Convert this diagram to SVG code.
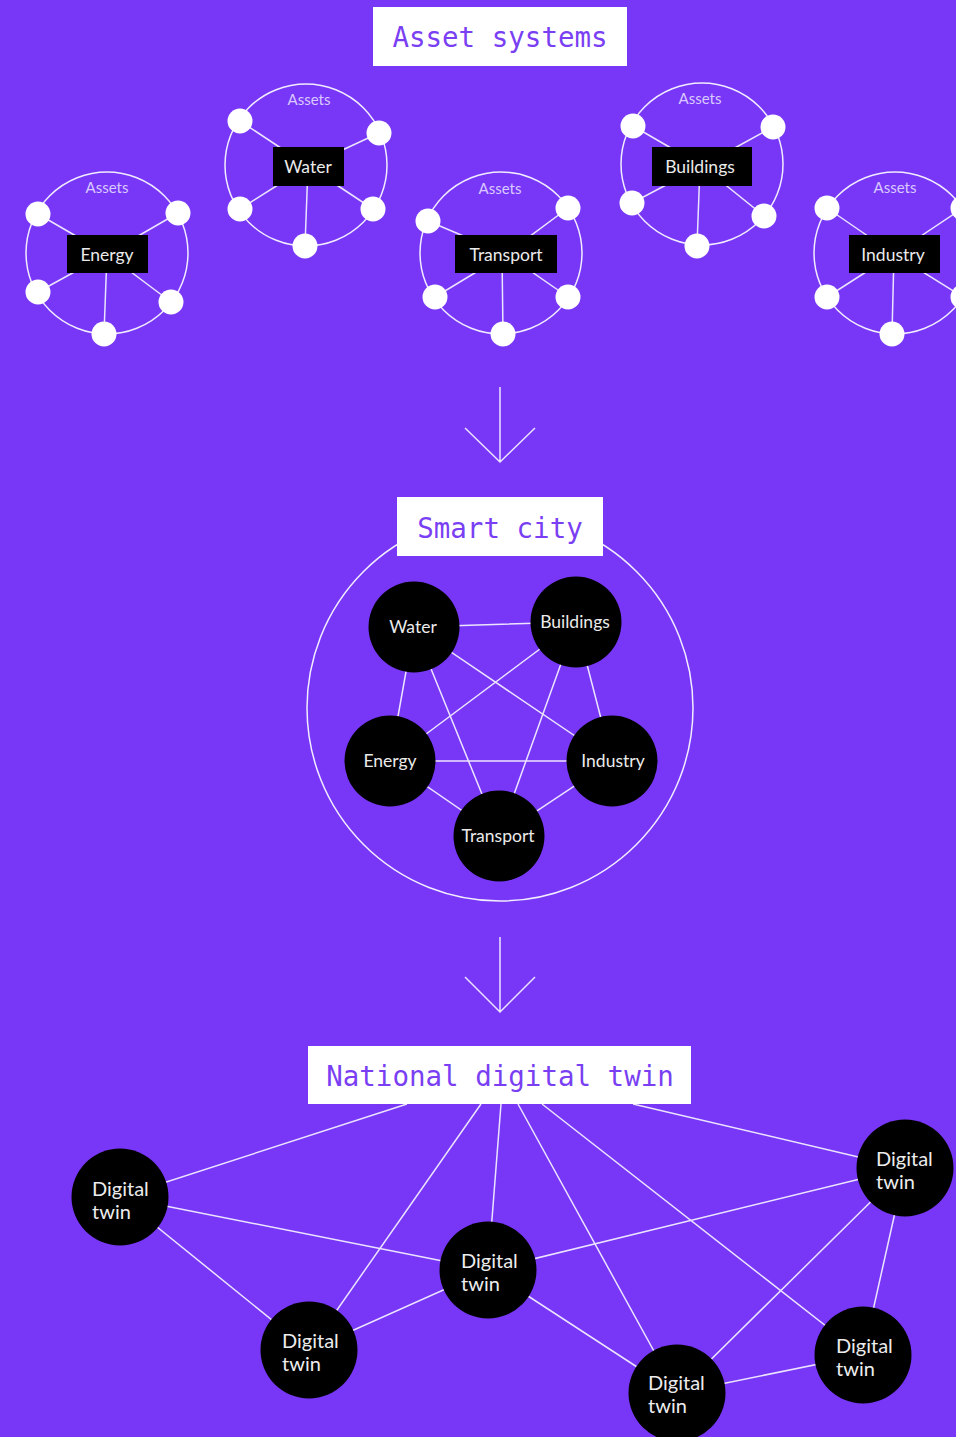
<svg xmlns="http://www.w3.org/2000/svg" width="956" height="1437" viewBox="0 0 956 1437">
<style>
.bg{fill:#7837F7}
.ring{fill:none;stroke:#f2ecff;stroke-width:1.5}
.ln{stroke:#ece4ff;stroke-width:1.5;fill:none}
.dot{fill:#ffffff}
.lab{fill:#000}
.lt{font-family:Lato,"Open Sans",sans-serif;font-size:17.5px;fill:#ebebeb;text-anchor:middle}
.as{font-family:Lato,"Open Sans",sans-serif;font-size:15px;fill:#d9c9ff;text-anchor:middle}
.ttl{fill:#fff}
.tt{font-family:"DejaVu Sans Mono","Liberation Mono",monospace;font-size:27.5px;fill:#7a3ff3;text-anchor:middle}
.nd{fill:#000}
.dt{font-family:Lato,"Open Sans",sans-serif;font-size:20px;fill:#ececec}
</style>
<rect class="bg" x="0" y="0" width="956" height="1437"/>

<g id="title-assets"><rect class="ttl" x="373" y="7" width="254" height="59"/><text class="tt" x="500" y="47">Asset systems</text></g>

<g id="cluster-energy">
<circle class="ring" cx="107" cy="253" r="81"/>
<path class="ln" d="M38 214L107 254M178 213L107 254M38 292L107 254M171 302L107 254M104 334L107 254"/>
<circle class="dot" cx="38" cy="214" r="12.5"/><circle class="dot" cx="178" cy="213" r="12.5"/><circle class="dot" cx="38" cy="292" r="12.5"/><circle class="dot" cx="171" cy="302" r="12.5"/><circle class="dot" cx="104" cy="334" r="12.5"/>
<text class="as" x="107" y="193">Assets</text>
<rect class="lab" x="67" y="235" width="81" height="38"/><text class="lt" x="107" y="261">Energy</text>
</g>

<g id="cluster-water">
<circle class="ring" cx="306" cy="165" r="81"/>
<path class="ln" d="M240 121L308 166M379 133L308 166M240 209L308 166M373 209L308 166M305 246L308 166"/>
<circle class="dot" cx="240" cy="121" r="12.5"/><circle class="dot" cx="379" cy="133" r="12.5"/><circle class="dot" cx="240" cy="209" r="12.5"/><circle class="dot" cx="373" cy="209" r="12.5"/><circle class="dot" cx="305" cy="246" r="12.5"/>
<text class="as" x="309" y="105">Assets</text>
<rect class="lab" x="273" y="147" width="71" height="39"/><text class="lt" x="308" y="173">Water</text>
</g>

<g id="cluster-transport">
<circle class="ring" cx="501" cy="253" r="81"/>
<path class="ln" d="M428 221L506 254M568 208L506 254M435 297L506 254M568 297L506 254M503 334L502 254"/>
<circle class="dot" cx="428" cy="221" r="12.5"/><circle class="dot" cx="568" cy="208" r="12.5"/><circle class="dot" cx="435" cy="297" r="12.5"/><circle class="dot" cx="568" cy="297" r="12.5"/><circle class="dot" cx="503" cy="334" r="12.5"/>
<text class="as" x="500" y="194">Assets</text>
<rect class="lab" x="455" y="235" width="102" height="38"/><text class="lt" x="506" y="261">Transport</text>
</g>

<g id="cluster-buildings">
<circle class="ring" cx="702" cy="164" r="81"/>
<path class="ln" d="M633 126L702 166M773 127L702 166M632 203L702 166M764 216L702 166M697 246L700 166"/>
<circle class="dot" cx="633" cy="126" r="12.5"/><circle class="dot" cx="773" cy="127" r="12.5"/><circle class="dot" cx="632" cy="203" r="12.5"/><circle class="dot" cx="764" cy="216" r="12.5"/><circle class="dot" cx="697" cy="246" r="12.5"/>
<text class="as" x="700" y="104">Assets</text>
<rect class="lab" x="652" y="147" width="100" height="39"/><text class="lt" x="700" y="173">Buildings</text>
</g>

<g id="cluster-industry">
<circle class="ring" cx="895" cy="253" r="81"/>
<path class="ln" d="M827 208L894 254M963 208L894 254M827 297L894 254M963 297L894 254M892 334L894 254"/>
<circle class="dot" cx="827" cy="208" r="12.5"/><circle class="dot" cx="963" cy="208" r="12.5"/><circle class="dot" cx="827" cy="297" r="12.5"/><circle class="dot" cx="963" cy="297" r="12.5"/><circle class="dot" cx="892" cy="334" r="12.5"/>
<text class="as" x="895" y="193">Assets</text>
<rect class="lab" x="849" y="235" width="91" height="38"/><text class="lt" x="893" y="261">Industry</text>
</g>

<g id="arrows">
<path class="ln" d="M500 387V461M465 428L500 462L535 428"/>
<path class="ln" d="M500 937V1011M465 977L500 1012L535 977"/>
</g>

<g id="smart-city">
<circle class="ring" cx="500" cy="708" r="193"/>
<g id="city-connectors">
<path class="ln" d="M414 627L576 622M414 627L390 761M414 627L612 761M414 627L499 836M576 622L390 761M576 622L612 761M576 622L499 836M390 761L612 761M390 761L499 836M612 761L499 836"/>
</g>
<rect class="ttl" x="397" y="497" width="206" height="59"/><text class="tt" x="500" y="538">Smart city</text>
<g id="city-water"><circle class="nd" cx="414" cy="627" r="45.5"/><text class="lt" x="413" y="633">Water</text></g>
<g id="city-buildings"><circle class="nd" cx="576" cy="622" r="45.5"/><text class="lt" x="575" y="628">Buildings</text></g>
<g id="city-energy"><circle class="nd" cx="390" cy="761" r="45.5"/><text class="lt" x="390" y="767">Energy</text></g>
<g id="city-industry"><circle class="nd" cx="612" cy="761" r="45.5"/><text class="lt" x="613" y="767">Industry</text></g>
<g id="city-transport"><circle class="nd" cx="499" cy="836" r="45.5"/><text class="lt" x="498" y="842">Transport</text></g>
</g>

<g id="twin-connectors">
<path class="ln" d="M407 1104L120 1197M481 1104L309 1350M501 1104L488 1270M518 1104L677 1393M542 1104L863 1355M633 1104L905 1168"/>
<path class="ln" d="M120 1197L488 1270M120 1197L309 1350M309 1350L488 1270M488 1270L905 1168M488 1270L677 1393M677 1393L905 1168M677 1393L863 1355M863 1355L905 1168"/>
</g>

<g id="title-national"><rect class="ttl" x="308" y="1046" width="383" height="58"/><text class="tt" x="500" y="1086">National digital twin</text></g>

<g id="twin-1"><circle class="nd" cx="120" cy="1197" r="48.5"/><text class="dt" x="92" y="1196">Digital</text><text class="dt" x="92" y="1219">twin</text></g>
<g id="twin-2"><circle class="nd" cx="488" cy="1270" r="48.5"/><text class="dt" x="461" y="1268">Digital</text><text class="dt" x="461" y="1291">twin</text></g>
<g id="twin-3"><circle class="nd" cx="309" cy="1350" r="48.5"/><text class="dt" x="282" y="1348">Digital</text><text class="dt" x="282" y="1371">twin</text></g>
<g id="twin-4"><circle class="nd" cx="905" cy="1168" r="48.5"/><text class="dt" x="876" y="1166">Digital</text><text class="dt" x="876" y="1189">twin</text></g>
<g id="twin-5"><circle class="nd" cx="863" cy="1355" r="48.5"/><text class="dt" x="836" y="1353">Digital</text><text class="dt" x="836" y="1376">twin</text></g>
<g id="twin-6"><circle class="nd" cx="677" cy="1393" r="48.5"/><text class="dt" x="648" y="1390">Digital</text><text class="dt" x="648" y="1413">twin</text></g>
</svg>
